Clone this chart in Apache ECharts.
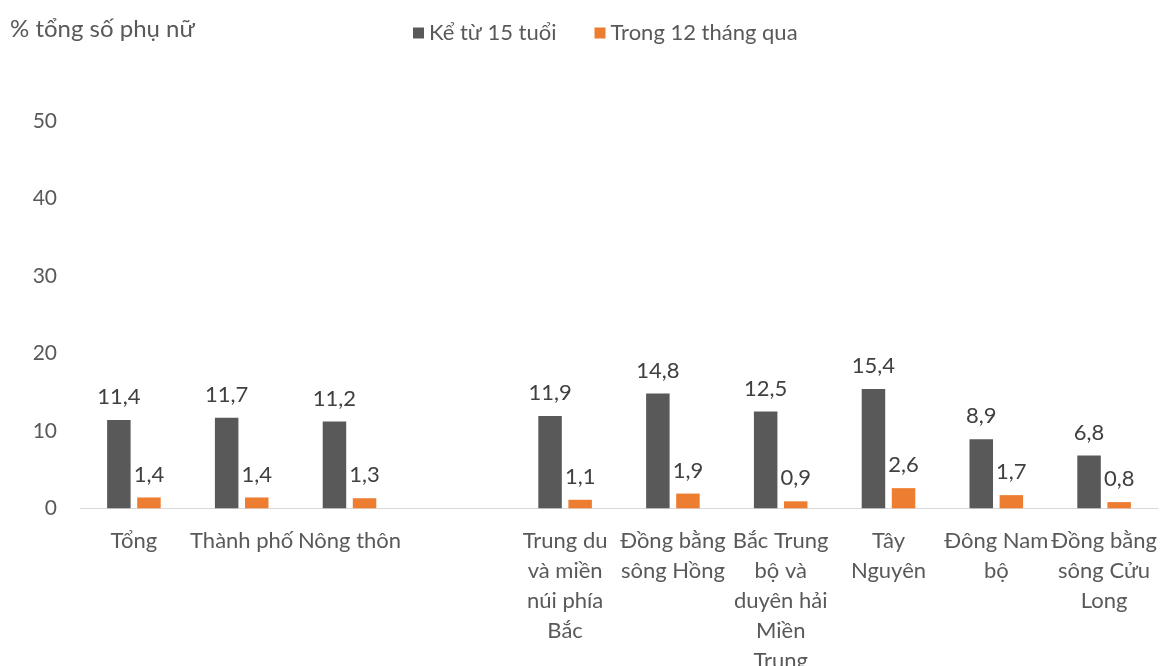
<!DOCTYPE html>
<html>
<head>
<meta charset="utf-8">
<script src="https://cdn.jsdelivr.net/npm/echarts@6/dist/echarts.min.js"></script>
<style>html,body{margin:0;padding:0;background:#fff;overflow:hidden}#c{width:1160px;height:666px}</style>
</head>
<body>
<div id="c"></div>
<script>
const categories = ["Tổng", "Thành phố", "Nông thôn", "", "Trung du và miền núi phía Bắc", "Đồng bằng sông Hồng", "Bắc Trung bộ và duyên hải Miền Trung", "Tây Nguyên", "Đông Nam bộ", "Đồng bằng sông Cửu Long"];
const categoryLabels = ["Tổng", "Thành phố", "Nông thôn", "", "Trung du\nvà miền\nnúi phía\nBắc", "Đồng bằng\nsông Hồng", "Bắc Trung\nbộ và\nduyên hải\nMiền\nTrung", "Tây\nNguyên", "Đông Nam\nbộ", "Đồng bằng\nsông Cửu\nLong"];
const seriesNames = ["Kể từ 15 tuổi", "Trong 12 tháng qua"];
const since15 = [11.4, 11.7, 11.2, null, 11.9, 14.8, 12.5, 15.4, 8.9, 6.8];
const last12 = [1.4, 1.4, 1.3, null, 1.1, 1.9, 0.9, 2.6, 1.7, 0.8];
const yTicks = [0, 10, 20, 30, 40, 50];
const yTitle = "% tổng số phụ nữ";

const FONT = "Lato, 'Open Sans', sans-serif";
const chart = echarts.init(document.getElementById('c'));
const labelCfg = {
  show: true, position: 'top', distance: 12,
  fontFamily: FONT, fontSize: 22, color: '#404040',
  formatter: p => p.value == null ? '' : String(p.value.toFixed(1)).replace('.', ',')
};
chart.setOption({
  animation: false,
  textStyle: { fontFamily: FONT },
  graphic: [{
    type: 'text', left: 10, top: 17,
    style: { text: yTitle, fontFamily: FONT, fontSize: 24, fill: '#595959' }
  }],
  legend: {
    top: 17, left: 408,
    itemWidth: 11, itemHeight: 11, itemGap: 38,
    icon: 'rect',
    textStyle: { fontFamily: FONT, fontSize: 22, color: '#595959' },
    data: seriesNames
  },
  grid: { left: 80, width: 1078, top: 120.8, height: 387.5, containLabel: false, outerBoundsMode: 'none' },
  xAxis: {
    type: 'category', data: categories,
    axisLine: { show: true, lineStyle: { color: '#D9D9D9', width: 1 } },
    axisTick: { show: false },
    axisLabel: {
      interval: 0, margin: 18, fontFamily: FONT, fontSize: 22, color: '#595959', lineHeight: 30,
      formatter: (v, i) => categoryLabels[i]
    }
  },
  yAxis: {
    type: 'value', min: yTicks[0], max: yTicks[yTicks.length - 1], interval: 10,
    axisLine: { show: false }, axisTick: { show: false },
    splitLine: { show: false },
    axisLabel: { margin: 23, fontFamily: FONT, fontSize: 21, color: '#595959' }
  },
  series: [
    { name: seriesNames[0], type: 'bar', data: since15, barWidth: 23.5, barGap: '28%',
      itemStyle: { color: '#595959' }, label: labelCfg },
    { name: seriesNames[1], type: 'bar', data: last12, barWidth: 23.5, barGap: '28%',
      itemStyle: { color: '#ED7D31' }, label: labelCfg }
  ]
});
</script>
</body>
</html>
